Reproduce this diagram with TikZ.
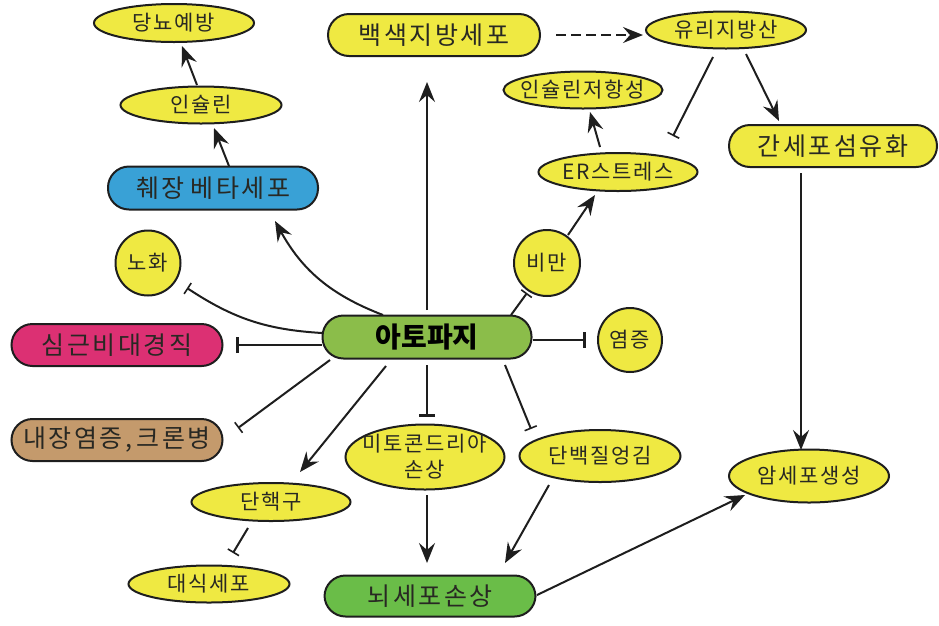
\documentclass[tikz,border=0pt]{standalone}
\usepackage{fontspec}
\usetikzlibrary{arrows.meta,shapes.geometric}
\newfontfamily\krfont{Noto Sans CJK KR}[LetterSpace=8]
\newfontfamily\krwide{Noto Sans CJK KR}[LetterSpace=10]
\newfontfamily\krplain{Noto Sans CJK KR}
\definecolor{yel}{RGB}{239,233,66}
\definecolor{blu}{RGB}{57,161,214}
\definecolor{pnk}{RGB}{220,48,115}
\definecolor{brn}{RGB}{196,154,108}
\definecolor{grnA}{RGB}{139,189,74}
\definecolor{grnB}{RGB}{106,189,72}
\definecolor{ink}{RGB}{30,30,30}
\definecolor{txt}{RGB}{40,40,35}
\tikzset{
  x=1pt, y=-1pt,
  base/.style={draw=ink, line width=2pt, text=txt, inner sep=0pt},
  ell/.style={base, ellipse, fill=yel, font=\krfont\fontsize{21}{26}\selectfont},
  circ/.style={base, circle, fill=yel, font=\krfont\fontsize{21}{26}\selectfont},
  pill/.style={base, rectangle, rounded corners=21pt, font=\krwide\fontsize{25}{28}\selectfont},
  arr/.style={draw=ink, line width=2pt, -{Stealth[length=20pt,width=16pt,inset=7pt]}},
  dsh/.style={arr, dash pattern=on 10pt off 5pt},
  inh/.style={draw=ink, line width=2pt, -{Bar[width=13pt,line width=1.6pt]}},
  inhbig/.style={draw=ink, line width=2.6pt, -{Bar[width=16pt,line width=3.4pt]}},
}
\begin{document}
\begin{tikzpicture}
\path[use as bounding box] (0,0) rectangle (939,625);

% nodes
\node[ell, minimum width=160, minimum height=38] (diab) at (174,23) {\makebox[0pt]{당뇨예방}};
\node[ell, minimum width=161, minimum height=37] (ins) at (201,105) {\makebox[0pt]{인슐린}};
\node[pill, fill=blu, minimum width=210, minimum height=43] (beta) at (213,188) {췌장\hspace{6pt}베타세포};
\node[pill, fill=yel, minimum width=212, minimum height=42] (wfat) at (434,35) {백색지방세포};
\node[ell, minimum width=160, minimum height=37] (ffa) at (726,30) {\makebox[0pt]{유리지방산}};
\node[ell, minimum width=159, minimum height=37] (ir) at (583,90) {\makebox[0pt]{인슐린저항성}};
\node[ell, minimum width=159, minimum height=38] (er) at (618,172) {\makebox[0pt]{ER스트레스}};
\node[pill, fill=yel, minimum width=208, minimum height=42] (liver) at (833,146) {간세포섬유화};
\node[circ, minimum size=65] (aging) at (148,263) {\makebox[0pt]{노화}};
\node[circ, minimum size=66] (obes) at (547,263) {\makebox[0pt]{비만}};
\node[pill, fill=pnk, minimum width=211, minimum height=42] (cardio) at (117,345) {심근비대경직};
\node[pill, fill=grnA, minimum width=209, minimum height=43, font=\krplain\bfseries\fontsize{28}{32}\selectfont, text=black] (ato) at (427,337) {아토파지};
\node[circ, minimum size=64] (infl) at (630,340) {\makebox[0pt]{염증}};
\node[pill, fill=brn, minimum width=211, minimum height=42] (ibd) at (117,440) {\makebox[0pt]{내장염증,\hspace{5pt}크론병}};
\node[ell, minimum width=159, minimum height=65, align=center] (mito) at (425,457) {\makebox[0pt]{미토콘드리아}\\\makebox[0pt]{손상}};
\node[ell, minimum width=161, minimum height=52] (prot) at (600,456) {\makebox[0pt]{단백질엉김}};
\node[ell, minimum width=160, minimum height=53] (cancer) at (809,476) {\makebox[0pt]{암세포생성}};
\node[ell, minimum width=159, minimum height=38] (mono) at (271,502) {\makebox[0pt]{단핵구}};
\node[ell, minimum width=161, minimum height=37] (macro) at (209,584) {\makebox[0pt]{대식세포}};
\node[pill, fill=grnB, minimum width=211, minimum height=41] (brain) at (430,596) {뇌세포손상};

% upper-left chain
\draw[arr] ([shift={(-4,-20)}]ins.center) -- ([shift={(8,23)}]diab.center);
\draw[arr] ([shift={(16,-22)}]beta.center) -- ([shift={(13,23)}]ins.center);
\draw[arr] ([shift={(-44,-22)}]ato.center) to[bend left=20] ([shift={(62,33)}]beta.center);

% top and right
\draw[arr] ([shift={(0,-27)}]ato.center) -- ([shift={(-7,47)}]wfat.center);
\draw[dsh] ([shift={(122,0)}]wfat.center) -- ([shift={(-83,5)}]ffa.center);
\draw[inh] ([shift={(-13,27)}]ffa.center) -- ([shift={(55,-36)}]er.center);
\draw[arr] ([shift={(20,24)}]ffa.center) -- ([shift={(-54,-25)}]liver.center);
\draw[arr] ([shift={(-32,27)}]liver.center) -- ([shift={(-8,-26)}]cancer.center);
\draw[arr] ([shift={(-18,-25)}]er.center) -- ([shift={(7,22)}]ir.center);
\draw[arr] ([shift={(21,-28)}]obes.center) -- ([shift={(-23,23)}]er.center);

% inhibitions from autophagy
\draw[inh] ([shift={(84,-22)}]ato.center) -- ([shift={(-20,30)}]obes.center);
\draw[inhbig] ([shift={(106,3)}]ato.center) -- ([shift={(-44,0)}]infl.center);
\draw[inhbig] ([shift={(-105,8)}]ato.center) -- ([shift={(119,0)}]cardio.center);
\draw[inh] ([shift={(-105,-4)}]ato.center) to[bend left=15] ([shift={(39,25)}]aging.center);
\draw[inh] ([shift={(-97,23)}]ato.center) -- ([shift={(121,-12)}]ibd.center);
\draw[inhbig] ([shift={(0,28)}]ato.center) -- ([shift={(2,-40)}]mito.center);
\draw[inh] ([shift={(78,28)}]ato.center) -- ([shift={(-69,-27)}]prot.center);
\draw[arr] ([shift={(-41,29)}]ato.center) -- ([shift={(29,-30)}]mono.center);

% lower part
\draw[inh] ([shift={(-23,26)}]mono.center) -- ([shift={(24,-31)}]macro.center);
\draw[arr] ([shift={(2,38)}]mito.center) -- ([shift={(-3,-33)}]brain.center);
\draw[arr] ([shift={(-51,29)}]prot.center) -- ([shift={(75,-33)}]brain.center);
\draw[arr] ([shift={(107,-1)}]brain.center) -- ([shift={(-64,19)}]cancer.center);
\end{tikzpicture}
\end{document}
